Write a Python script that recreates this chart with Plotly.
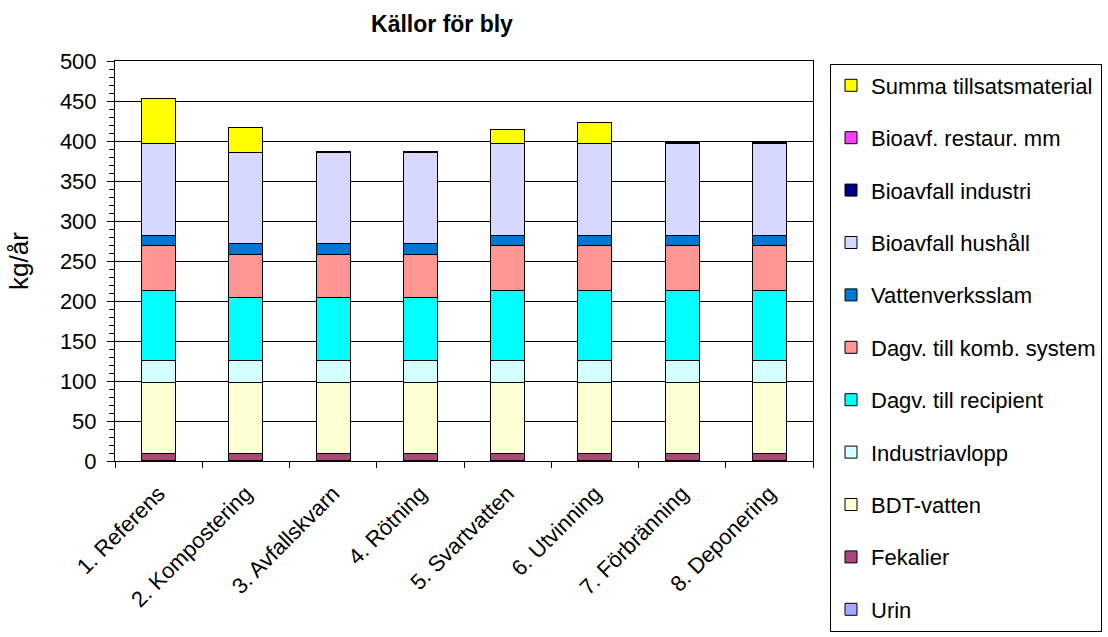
import plotly.graph_objects as go

# Scenarios (x categories)
scenarios = [
    "1. Referens", "2. Kompostering", "3. Avfallskvarn", "4. Rötning",
    "5. Svartvatten", "6. Utvinning", "7. Förbränning", "8. Deponering",
]

# Lead sources, kg/år per scenario (stacked bottom to top)
urin = [0.3, 0.3, 0.3, 0.3, 0.3, 0.3, 0.3, 0.3]
fekalier = [9, 9, 9, 9, 9, 9, 9, 9]
bdt_vatten = [89, 89, 89, 89, 89, 89, 89, 89]
industriavlopp = [27, 27, 27, 27, 27, 27, 27, 27]
dagv_recipient = [88, 79, 79, 79, 88, 88, 88, 88]
dagv_komb = [56, 54, 54, 54, 56, 56, 56, 56]
vattenverksslam = [12, 13, 13, 13, 12, 12, 12, 12]
bioavfall_hushall = [115, 114, 114, 114, 115, 115, 115, 115]
bioavfall_industri = [0, 0, 0, 0, 0, 0, 0, 0]
bioavf_restaur = [0, 0, 0, 0, 0, 0, 0, 0]
summa_tillsats = [57, 31, 2, 2, 18, 27, 2, 2]

series = [
    ("Urin", urin, "#A8A8FF"),
    ("Fekalier", fekalier, "#AA4878"),
    ("BDT-vatten", bdt_vatten, "#FFFFD4"),
    ("Industriavlopp", industriavlopp, "#D4FFFF"),
    ("Dagv. till recipient", dagv_recipient, "#00FFFF"),
    ("Dagv. till komb. system", dagv_komb, "#FF9694"),
    ("Vattenverksslam", vattenverksslam, "#0078D2"),
    ("Bioavfall hushåll", bioavfall_hushall, "#D6D8FF"),
    ("Bioavfall industri", bioavfall_industri, "#000080"),
    ("Bioavf. restaur. mm", bioavf_restaur, "#FF3FFF"),
    ("Summa tillsatsmaterial", summa_tillsats, "#FFFF00"),
]

FONT = "Liberation Sans, Arial, sans-serif"

fig = go.Figure()
n = len(series)
for i, (name, vals, color) in enumerate(series):
    fig.add_trace(go.Bar(
        x=scenarios, y=vals, name=name, legendgroup=name,
        legendrank=n - i,  # top of the stack listed first
        marker=dict(color=color, line=dict(color="black", width=1)),
    ))

fig.update_layout(
    barmode="stack",
    bargap=0.61,
    width=1108, height=637,
    margin=dict(l=115, r=295, t=61, b=176),
    paper_bgcolor="white", plot_bgcolor="white",
    font=dict(family=FONT, size=22, color="black"),
    title=dict(
        text="<b>Källor för bly</b>", x=442 / 1108, xanchor="center",
        y=1 - 24 / 637, yanchor="middle", font=dict(size=23),
    ),
    legend=dict(
        x=830 / 1108, xref="container", y=1 - 63.5 / 637, yref="container",
        xanchor="left", yanchor="top",
        traceorder="grouped", tracegroupgap=20.8, maxheight=620,
        bordercolor="black", borderwidth=1,
        font=dict(size=22),
    ),
    showlegend=True,
)

fig.update_xaxes(
    tickangle=-45, tickson="boundaries", ticks="outside", ticklen=6,
    tickcolor="black", showline=True, linecolor="black", linewidth=1,
    mirror=True, showgrid=False, ticklabelstandoff=10,
)
fig.update_yaxes(
    range=[0, 500], dtick=50, ticks="outside", ticklen=7, tickcolor="black",
    showline=True, linecolor="black", linewidth=1, mirror=True,
    showgrid=True, gridcolor="black", gridwidth=1, zeroline=False,
    minor=dict(dtick=10, ticks="outside", ticklen=5, tickcolor="black", showgrid=False),
    ticklabelstandoff=6,
    title=dict(text="kg/år", standoff=23),
)

fig.write_html("out.html")
